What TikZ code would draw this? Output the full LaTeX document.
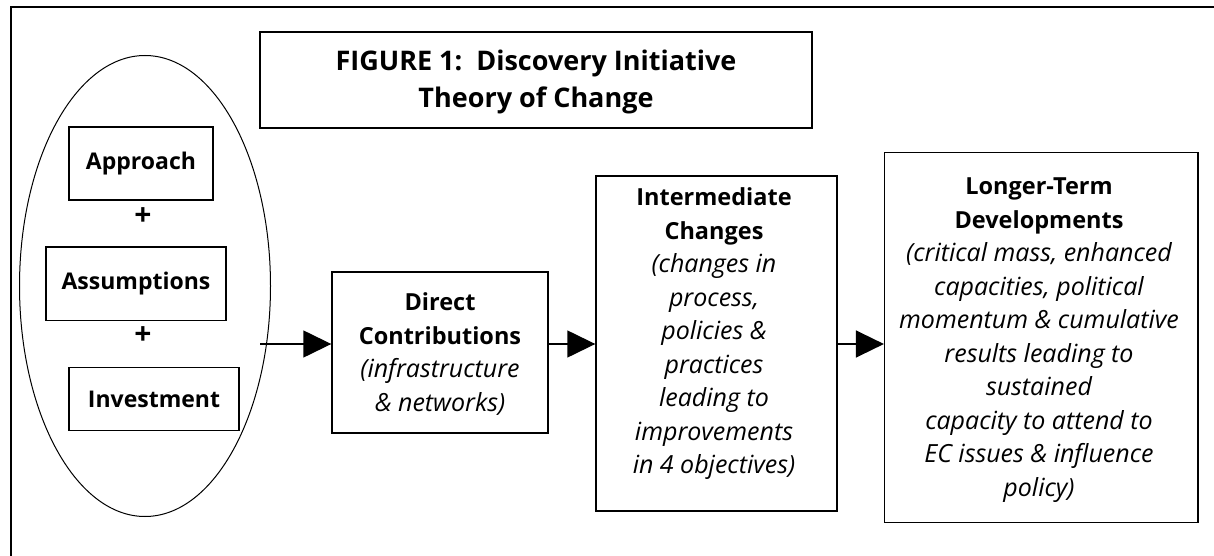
\documentclass[tikz,border=0pt]{standalone}
\usepackage{fontspec}
\setmainfont{Open Sans}
\usetikzlibrary{arrows.meta,shapes.geometric}
\newcommand\myit[1]{{\fontsize{25}{33.5}\selectfont\itshape #1}}
\newcommand\mybf[1]{{\fontsize{23.5}{33.5}\selectfont\bfseries #1}}
\begin{document}
\begin{tikzpicture}[x=1pt,y=-1pt,
  box/.style={draw=black,line width=1.4pt,rectangle,inner sep=0pt},
  txt/.style={align=center,inner sep=0pt,font=\fontsize{24}{33.5}\selectfont},
  ttl/.style={align=center,inner sep=0pt,font=\fontsize{27}{37}\selectfont\bfseries},
  lbl/.style={inner sep=0pt,font=\fontsize{23}{26}\selectfont\bfseries},
  plus/.style={inner sep=0pt,font=\fontsize{30}{30}\selectfont\bfseries},
  arr/.style={line width=1.4pt,-{Triangle[length=28pt,width=27pt]}}]
\useasboundingbox (0,0) rectangle (1214,556);
\fill[white] (0,0) rectangle (1214,556);
% outer frame (continues beyond the page)
\draw[line width=1.8pt] (10.7,556) -- (10.7,7.3) -- (1214,7.3);

% title
\node[box,minimum width=552pt,minimum height=96pt] (title) at (536,80) {};
\node[ttl] (titletext) at (536,81.5) {FIGURE 1:\ \ Discovery Initiative\\Theory of Change};

% ellipse group
\node[draw=black,line width=1pt,ellipse,inner sep=0pt,minimum width=251pt,minimum height=461pt] (ell) at (145,286) {};
\node[box,minimum width=144pt,minimum height=73pt] (appr) at (141,163.5) {};
\node[lbl] at (appr.center) {Approach};
\node[plus] (plus1) at (143,217) {+};
\node[box,minimum width=180pt,minimum height=73.5pt] (assu) at (136,283.7) {};
\node[lbl] at (assu.center) {Assumptions};
\node[plus] (plus2) at (143,336) {+};
\node[box,minimum width=170pt,minimum height=63pt] (inve) at (154,399) {};
\node[lbl] at (inve.center) {Investment};

% direct contributions
\node[box,minimum width=216pt,minimum height=161pt] (direct) at (440,352.5) {};
\node[txt] at (440,354) {\mybf{Direct}\\\mybf{Contributions}\\\myit{(infrastructure}\\\myit{\& networks)}};

% intermediate changes
\node[box,minimum width=241pt,minimum height=335pt] (inter) at (716.5,343.5) {};
\node[txt] at (714,334) {\mybf{Intermediate}\\\mybf{Changes}\\\myit{(changes in}\\\myit{process,}\\\myit{policies \&}\\\myit{practices}\\\myit{leading to}\\\myit{improvements}\\\myit{in 4 objectives)}};

% longer-term developments
\node[box,minimum width=313.4pt,minimum height=370.4pt] (longer) at (1041.3,337.5) {};
\node[txt] at (1039,340) {\mybf{Longer-Term}\\\mybf{Developments}\\\myit{(critical mass, enhanced}\\\myit{capacities, political}\\\myit{momentum \& cumulative}\\\myit{results leading to}\\\myit{sustained}\\\myit{capacity to attend to}\\\myit{EC issues \& influence}\\\myit{policy)}};

% connectors
\coordinate (a1s) at (260,344);
\draw[arr] (a1s) -- (direct.west |- a1s);
\draw[arr] (direct.east |- a1s) -- (inter.west |- a1s);
\draw[arr] (inter.east |- a1s) -- (longer.west |- a1s);
\end{tikzpicture}
\end{document}
